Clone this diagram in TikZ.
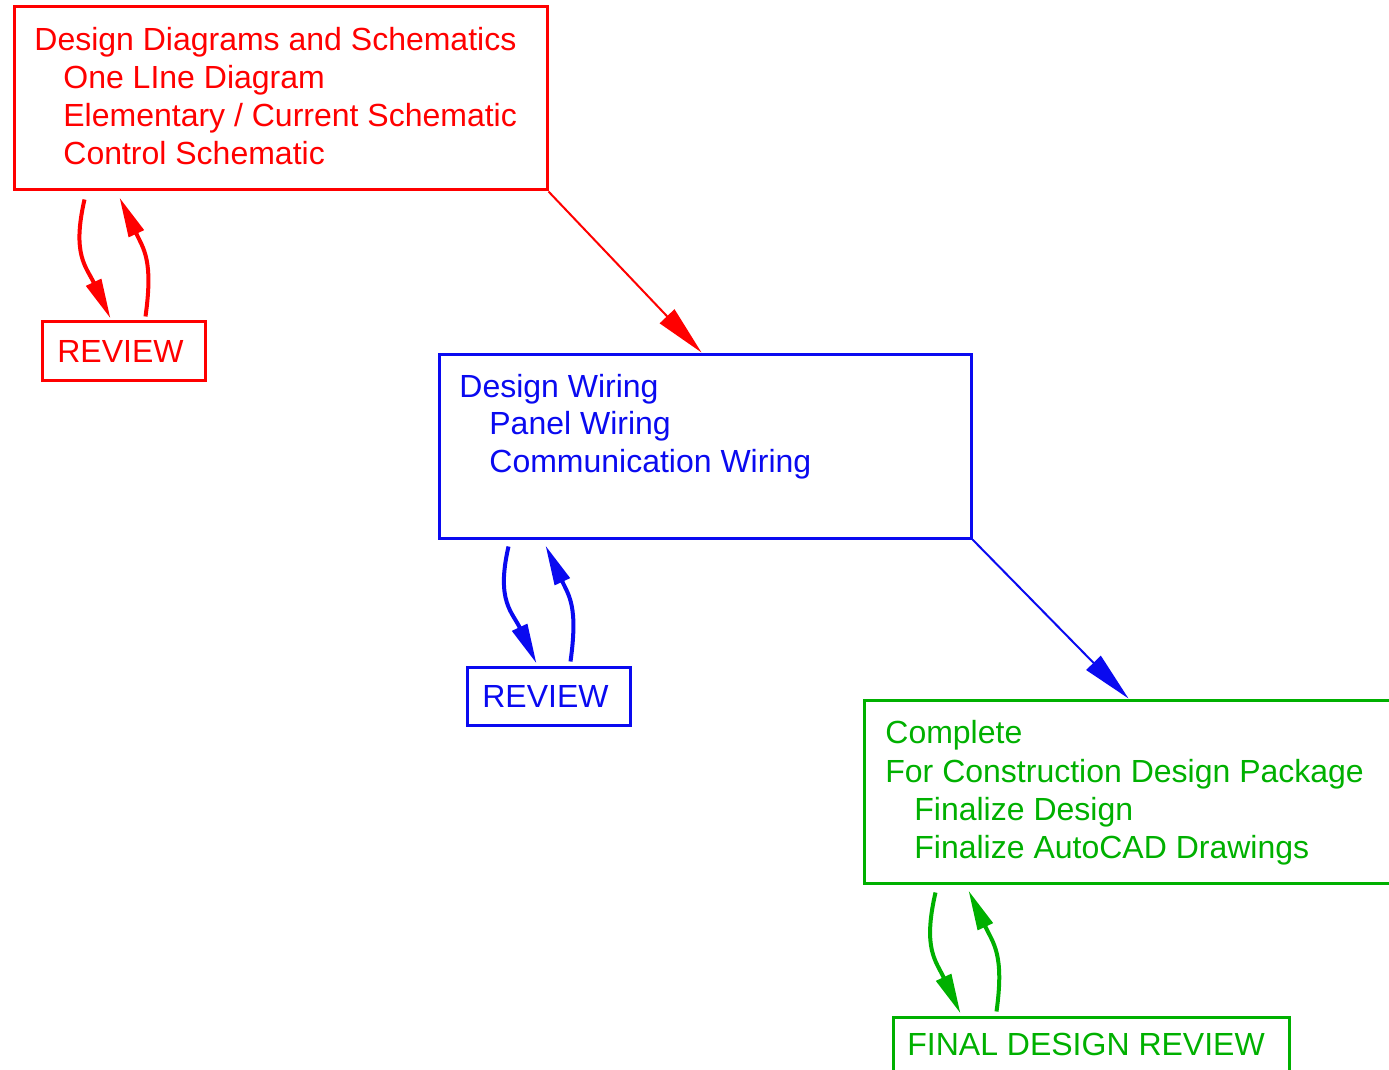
\documentclass[tikz,border=0pt]{standalone}
\usepackage{fontspec}
\setmainfont{Liberation Sans}
\usetikzlibrary{arrows.meta,fit}
\definecolor{stagered}{RGB}{255,0,0}
\definecolor{stageblue}{RGB}{10,10,240}
\definecolor{stagegreen}{RGB}{0,176,0}

\begin{document}
\begin{tikzpicture}[x=0.5pt, y=0.5pt,
  box/.style={draw, rectangle, line width=1.5pt, inner sep=0pt},
  line/.style={anchor=base west, inner sep=0pt, font=\fontsize{16}{19}\selectfont},
  reviewbox/.style={draw, rectangle, line width=1.5pt, minimum width=81.5pt, minimum height=29pt, inner sep=0pt, font=\fontsize{16}{19}\selectfont},
  loop/.style={line width=2pt, -{Triangle[length=20pt,width=8pt]}},
  flow/.style={line width=1pt, -{Triangle[length=25pt,width=10pt]}}]
\useasboundingbox (0,0) rectangle (1389,-1070);

% first stage: diagrams and schematics
\node (redbox) [box, draw=stagered, fit={(14,-7) (547,-190)}] {};
\node (redline1) [line, text=stagered] at (34,-51) {Design Diagrams and Schematics};
\node (redline2) [line, text=stagered] at ([shift={(29,-38)}]redline1.base west) {One LIne Diagram};
\node (redline3) [line, text=stagered] at ([shift={(0,-38)}]redline2.base west) {Elementary / Current Schematic};
\node (redline4) [line, text=stagered] at ([shift={(0,-38)}]redline3.base west) {Control Schematic};
\node (redreview) [reviewbox, draw=stagered, text=stagered] at (123.5,-351) {REVIEW\hspace*{3pt}};
\draw [loop, stagered] ([shift={(72,-8)}]redbox.south west) to[out=-103, in=115, looseness=1.2] ([shift={(70,2)}]redreview.north west);
\draw [loop, stagered] ([shift={(105,4)}]redreview.north west) to[out=82, in=-65, looseness=1.2] ([shift={(107,-6)}]redbox.south west);

% second stage: wiring
\node (bluebox) [box, draw=stageblue, fit={(439,-354) (971,-538)}] {};
\node (blueline1) [line, text=stageblue] at (459,-397) {Design Wiring};
\node (blueline2) [line, text=stageblue] at ([shift={(30,-37)}]blueline1.base west) {Panel Wiring};
\node (blueline3) [line, text=stageblue] at ([shift={(0,-38)}]blueline2.base west) {Communication Wiring};
\node (bluereview) [reviewbox, draw=stageblue, text=stageblue] at (548.5,-696) {REVIEW\hspace*{3pt}};
\draw [loop, stageblue] ([shift={(71,-7)}]bluebox.south west) to[out=-103, in=115, looseness=1.2] ([shift={(71,2)}]bluereview.north west);
\draw [loop, stageblue] ([shift={(105,4)}]bluereview.north west) to[out=82, in=-65, looseness=1.2] ([shift={(108,-6)}]bluebox.south west);

\draw [flow, stagered] (redbox.south east) -- ([shift={(264,0)}]bluebox.north west);

% third stage: final package
\node (greenbox) [box, draw=stagegreen, fit={(864,-700) (1400,-883)}] {};
\node (greenline1) [line, text=stagegreen] at (885,-743) {Complete};
\node (greenline2) [line, text=stagegreen] at ([shift={(0,-39)}]greenline1.base west) {For Construction Design Package};
\node (greenline3) [line, text=stagegreen] at ([shift={(29,-38)}]greenline2.base west) {Finalize Design};
\node (greenline4) [line, text=stagegreen] at ([shift={(0,-38)}]greenline3.base west) {Finalize AutoCAD Drawings};
\node (finalbox) [box, draw=stagegreen, fit={(893,-1017) (1289,-1100)}] {};
\node (finaltext) [line, text=stagegreen] at (907,-1055) {FINAL DESIGN REVIEW};
\draw [loop, stagegreen] ([shift={(73,-8)}]greenbox.south west) to[out=-103, in=115, looseness=1.2] ([shift={(69,2)}]finalbox.north west);
\draw [loop, stagegreen] ([shift={(105,4)}]finalbox.north west) to[out=82, in=-65, looseness=1.2] ([shift={(106,-6)}]greenbox.south west);

\draw [flow, stageblue] (bluebox.south east) -- ([shift={(266,0)}]greenbox.north west);
\end{tikzpicture}
\end{document}
